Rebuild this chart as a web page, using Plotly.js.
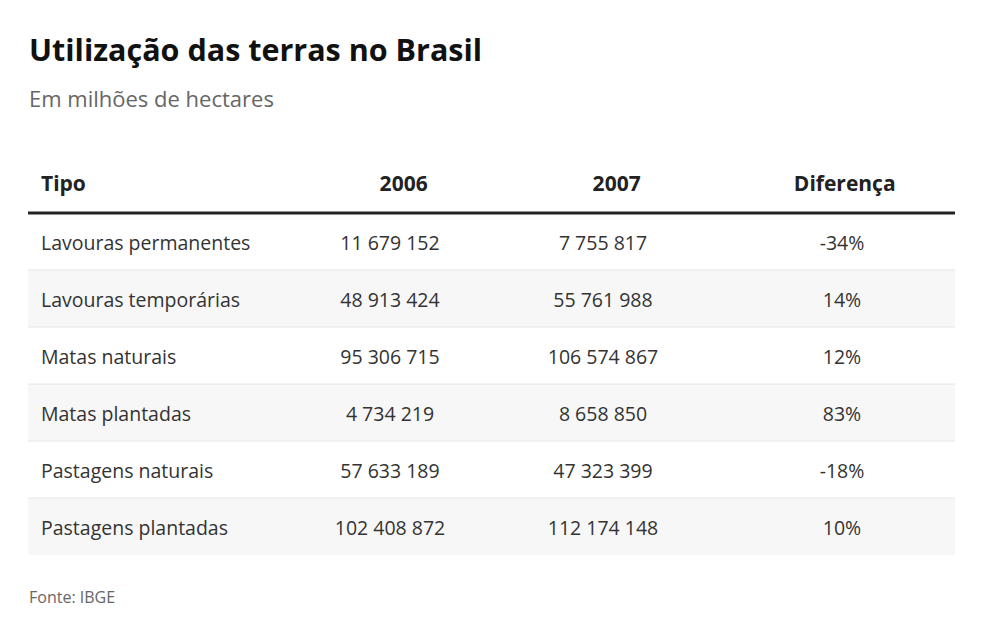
<!DOCTYPE html>
<html>
<head>
<meta charset="utf-8">
<script src="https://cdn.plot.ly/plotly-3.0.1.min.js"></script>
<style>html,body{margin:0;padding:0;background:#fff;}#chart{width:984px;height:637px;}</style>
</head>
<body>
<div id="chart"></div>
<script>
const headers = ['Tipo', '2006', '2007', 'Diferença'];
const tipos = ['Lavouras permanentes', 'Lavouras temporárias', 'Matas naturais', 'Matas plantadas', 'Pastagens naturais', 'Pastagens plantadas'];
const valores2006 = [11679152, 48913424, 95306715, 4734219, 57633189, 102408872];
const valores2007 = [7755817, 55761988, 106574867, 8658850, 47323399, 112174148];
const diferenca = [-34, 14, 12, 83, -18, 10];

const W = 984, H = 637;
const tableTop = 155, headerH = 58, rowH = 57;
const x0 = 28, x1 = 955, textIndent = 5;
const colWidths = [275, 174, 252, 226];
const textColWidths = [275 - textIndent, 174, 252, 226];
const NB = '\u00a0';
const fmtNum = n => String(n).replace(/\B(?=(\d{3})+(?!\d))/g, NB);
const rowFill = tipos.map((_, i) => i % 2 === 1 ? '#f7f7f7' : '#ffffff');
const cellValues = [tipos, valores2006.map(fmtNum), valores2007.map(fmtNum), diferenca.map(d => d + '%')];
const emptyValues = cellValues.map(col => col.map(() => ''));

const py = y => 1 - y / H;
const shapes = [];
shapes.push({type: 'line', xref: 'paper', yref: 'paper', x0: x0 / W, x1: x1 / W,
  y0: py(tableTop + headerH), y1: py(tableTop + headerH), line: {color: '#222222', width: 3}});
for (let i = 1; i < tipos.length; i++) {
  const y = tableTop + headerH + i * rowH;
  shapes.push({type: 'line', xref: 'paper', yref: 'paper', x0: x0 / W, x1: x1 / W,
    y0: py(y), y1: py(y), line: {color: '#e6e6e6', width: 1}});
}

const headerPrefix = ['', NB.repeat(5), NB.repeat(5), NB];
const headerFont = {family: 'Open Sans', size: 21, weight: 'bold'};
const cellFont = {family: 'Open Sans', size: 19.5};
const align = ['left', 'center', 'center', 'center'];

// background table: row fills only
const bgTrace = {
  type: 'table',
  domain: {x: [x0 / W, x1 / W], y: [py(tableTop + headerH + tipos.length * rowH), py(tableTop)]},
  columnwidth: colWidths,
  header: {
    values: headers.map(() => ''), align: align, height: headerH,
    fill: {color: '#ffffff'}, line: {color: '#ffffff', width: 0},
    font: Object.assign({color: '#222222'}, headerFont)
  },
  cells: {
    values: emptyValues, align: align, height: rowH,
    fill: {color: [rowFill]}, line: {color: [rowFill], width: 0},
    font: Object.assign({color: '#333333'}, cellFont)
  }
};

// text table: shifted to centre the text vertically in each row
const hdrShift = 12, cellShift = 14;
const textTop = tableTop + hdrShift;
const textHeaderH = headerH + cellShift - hdrShift;
const textTrace = {
  type: 'table',
  domain: {x: [(x0 + textIndent) / W, x1 / W], y: [py(textTop + textHeaderH + tipos.length * rowH), py(textTop)]},
  columnwidth: textColWidths,
  header: {
    values: headers, prefix: headerPrefix, align: align, height: textHeaderH,
    fill: {color: 'rgba(0,0,0,0)'}, line: {color: 'rgba(0,0,0,0)', width: 0},
    font: Object.assign({color: '#222222'}, headerFont)
  },
  cells: {
    values: cellValues, align: align, height: rowH,
    fill: {color: 'rgba(0,0,0,0)'}, line: {color: 'rgba(0,0,0,0)', width: 0},
    font: Object.assign({color: '#333333'}, cellFont)
  }
};

const layout = {
  width: W, height: H,
  margin: {l: 0, r: 0, t: 0, b: 0},
  paper_bgcolor: '#ffffff',
  font: {family: 'Open Sans'},
  title: {
    text: '<b>Utilização das terras no Brasil</b>',
    x: 29 / W, xanchor: 'left', xref: 'paper',
    y: py(50), yanchor: 'middle', yref: 'paper',
    font: {family: 'Open Sans', size: 30.5, color: '#111111'}
  },
  annotations: [
    {text: 'Em milhões de hectares', xref: 'paper', yref: 'paper', x: 27 / W, y: py(98),
     xanchor: 'left', yanchor: 'middle', showarrow: false,
     font: {family: 'Open Sans', size: 22, color: '#666666'}},
    {text: 'Fonte: IBGE', xref: 'paper', yref: 'paper', x: 27 / W, y: py(597),
     xanchor: 'left', yanchor: 'middle', showarrow: false,
     font: {family: 'Open Sans', size: 16, color: '#666666'}}
  ],
  shapes: shapes
};

Plotly.newPlot('chart', [bgTrace, textTrace], layout, {displayModeBar: false, staticPlot: true});
</script>
</body>
</html>
